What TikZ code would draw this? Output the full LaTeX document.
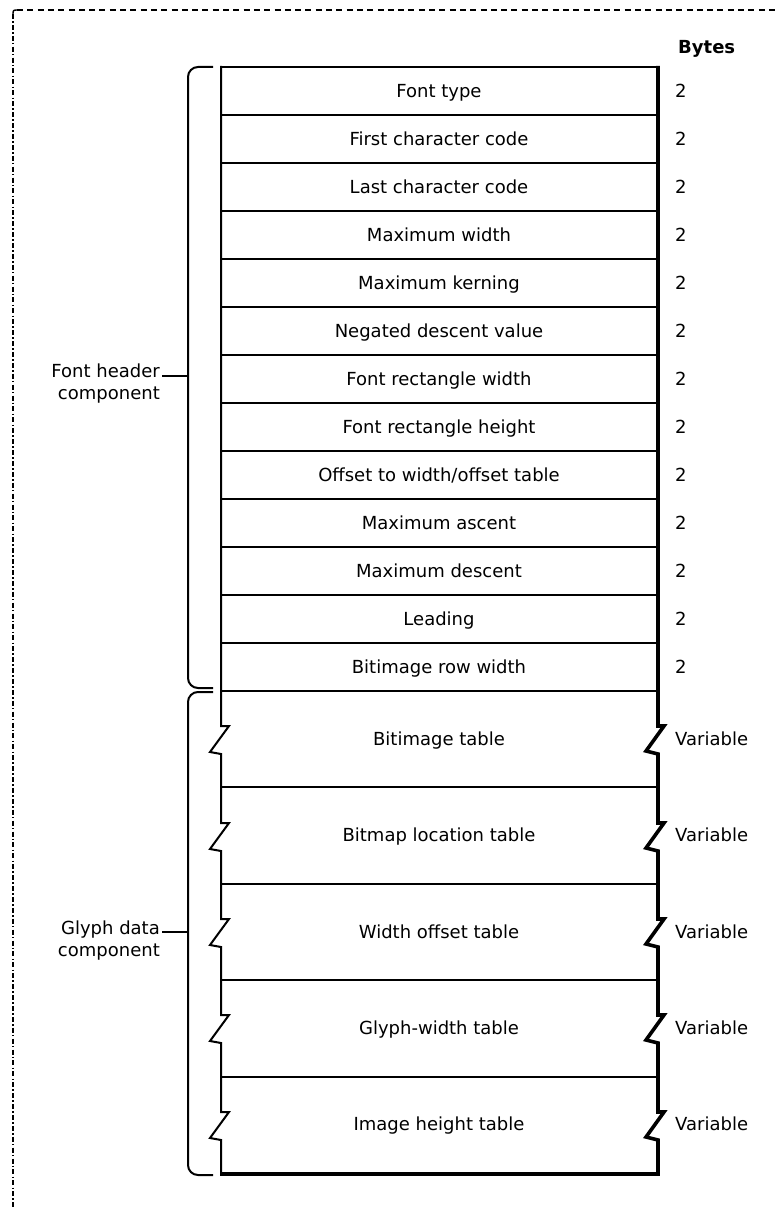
\documentclass[tikz,border=0pt]{standalone}
\usepackage{fontspec}
\setmainfont{DejaVu Sans}
\begin{document}
\begin{tikzpicture}[x=1pt,y=-1pt,
  tline/.style={line width=2pt},
  thick edge/.style={line width=3.6pt},
  frameline/.style={line width=1.4pt},
  cell/.style={font=\fontsize{18}{22}\selectfont, inner sep=0pt, anchor=base},
  bytecell/.style={font=\fontsize{18}{22}\selectfont, inner sep=0pt, anchor=base west},
  side/.style={font=\fontsize{18}{22}\selectfont, inner sep=0pt, align=right, anchor=north east},
  bracepath/.style={line width=2pt, rounded corners=10pt},
]
\useasboundingbox (0,0) rectangle (776,1207);
% outer dashed frame (top and left only)
\draw[frameline, dash pattern=on 6pt off 4.3pt] (17,10) -- (776,10);
\draw[frameline, dash pattern=on 5pt off 2.2pt on 1.5pt off 2.2pt] (13,14) -- (13,1207);
\draw[frameline] (13,15) .. controls (13,10) .. (18,10);

% header title
\node[font=\fontsize{18}{22}\selectfont\bfseries, inner sep=0pt, anchor=base west] (bh) at (678,53) {Bytes};

% fixed-size rows
\foreach \t [count=\i] in {Font type,First character code,Last character code,Maximum width,Maximum kerning,Negated descent value,Font rectangle width,Font rectangle height,Offset to width/offset table,Maximum ascent,Maximum descent,Leading,Bitimage row width}{
  \node[cell] (r\i) at (439,{49+48*\i}) {\t};
  \node[bytecell] (b\i) at (675,{49+48*\i}) {2};
}
\foreach \i in {1,...,13}{
  \draw[tline] (221,{67+48*\i}) -- (657,{67+48*\i});
}
\draw[tline] (220,67) -- (657,67);

% variable rows
\foreach \t [count=\k] in {Bitimage table,Bitmap location table,Width offset table,Glyph-width table,Image height table}{
  \node[cell] (v\k) at (439,{691+96.4*(\k-0.5)+6}) {\t};
  \node[bytecell] (w\k) at (675,{691+96.4*(\k-0.5)+6}) {Variable};
}
\foreach \k in {1,...,4}{
  \draw[tline] (221,{691+96.4*\k}) -- (657,{691+96.4*\k});
}

% left edge with break marks
\draw[tline] (221,66) -- (221,726) -- ++(8,0) -- ++(-19,26) -- ++(11,2)
  -- (221,823) -- ++(8,0) -- ++(-19,26) -- ++(11,2)
  -- (221,919) -- ++(8,0) -- ++(-19,26) -- ++(11,2)
  -- (221,1015) -- ++(8,0) -- ++(-19,26) -- ++(11,2)
  -- (221,1112) -- ++(8,0) -- ++(-19,26) -- ++(11,2)
  -- (221,1175);
% right edge (shadowed) with break marks
\draw[thick edge] (658,66) -- (658,726) -- ++(6,0) -- ++(-18,25) -- ++(12,3)
  -- (658,823) -- ++(6,0) -- ++(-18,25) -- ++(12,3)
  -- (658,919) -- ++(6,0) -- ++(-18,25) -- ++(12,3)
  -- (658,1015) -- ++(6,0) -- ++(-18,25) -- ++(12,3)
  -- (658,1112) -- ++(6,0) -- ++(-18,25) -- ++(12,3)
  -- (658,1175.8);
\draw[thick edge] (220,1174) -- (659.8,1174);

% braces
\draw[bracepath] (213,67) -| (188,688) -- (213,688);
\draw[bracepath] (213,692) -| (188,1175) -- (213,1175);
\coordinate (m1) at (188,376);
\coordinate (m2) at (188,932);

% side labels
\node[side] (fh) at (160,364) {Font header\\component};
\node[side] (gd) at (160,921) {Glyph data\\component};
\draw[tline] ([xshift=2pt]fh.east |- m1) -- (m1);
\draw[tline] ([xshift=2pt]gd.east |- m2) -- (m2);
\end{tikzpicture}
\end{document}
